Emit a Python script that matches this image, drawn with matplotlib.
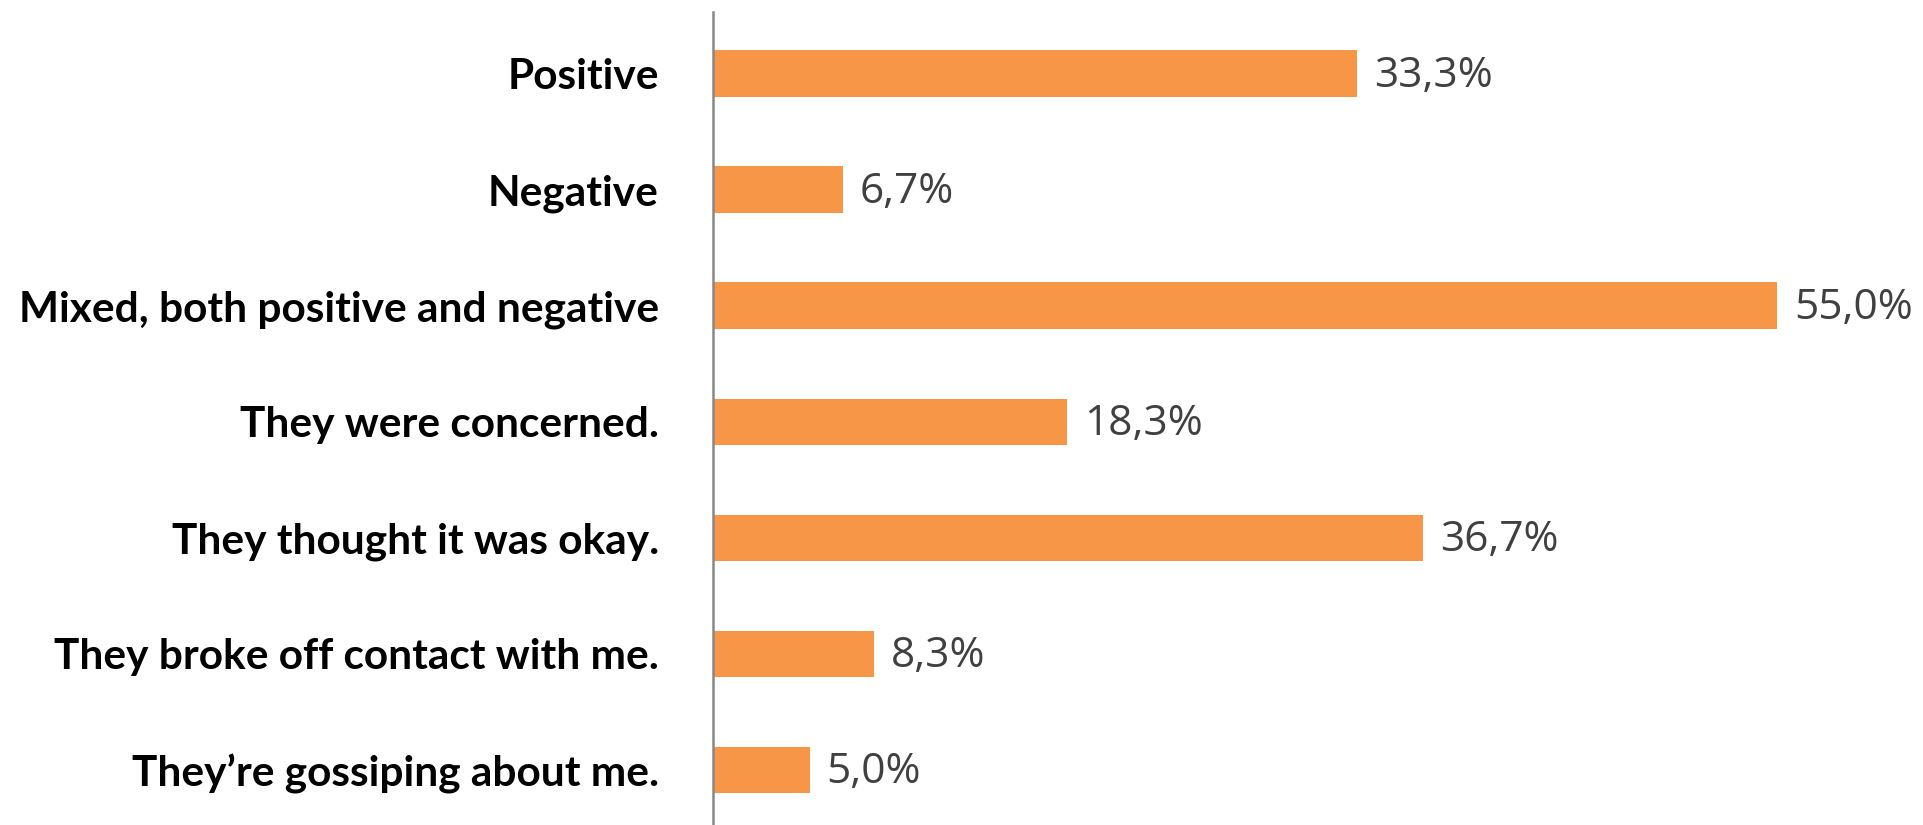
import matplotlib
matplotlib.use("Agg")
import matplotlib.pyplot as plt

categories = [
    "Positive",
    "Negative",
    "Mixed, both positive and negative",
    "They were concerned.",
    "They thought it was okay.",
    "They broke off contact with me.",
    "They\u2019re gossiping about me.",
]
values = [33.3, 6.7, 55.0, 18.3, 36.7, 8.3, 5.0]
value_labels = ["33,3%", "6,7%", "55,0%", "18,3%", "36,7%", "8,3%", "5,0%"]

fig = plt.figure(figsize=(19.24, 8.25), dpi=100)
ax = fig.add_axes([713 / 1924, 0.0, 1 - 713 / 1924, (825 - 12) / 825])

y = list(range(len(categories)))
ax.barh(y, values, height=0.4, color="#F79646", zorder=2)

ax.set_xlim(0, (1924 - 713) / 19.35)
ax.set_ylim(6.474, -0.53)

for spine in ["top", "right", "bottom"]:
    ax.spines[spine].set_visible(False)
ax.spines["left"].set_color("#888888")
ax.spines["left"].set_linewidth(1.8)
ax.set_xticks([])
ax.set_yticks(y)
ax.set_yticklabels(categories, fontfamily="Lato", fontweight="bold", fontsize=30.5, color="black")
ax.tick_params(axis="y", length=0, pad=39)

for yi, v, lab in zip(y, values, value_labels):
    ax.annotate(lab, (v, yi), xytext=(17, -2), textcoords="offset pixels",
                va="center", ha="left", fontfamily="Open Sans", fontsize=30.5,
                color="#404040")

fig.savefig("out.png", dpi=100)
